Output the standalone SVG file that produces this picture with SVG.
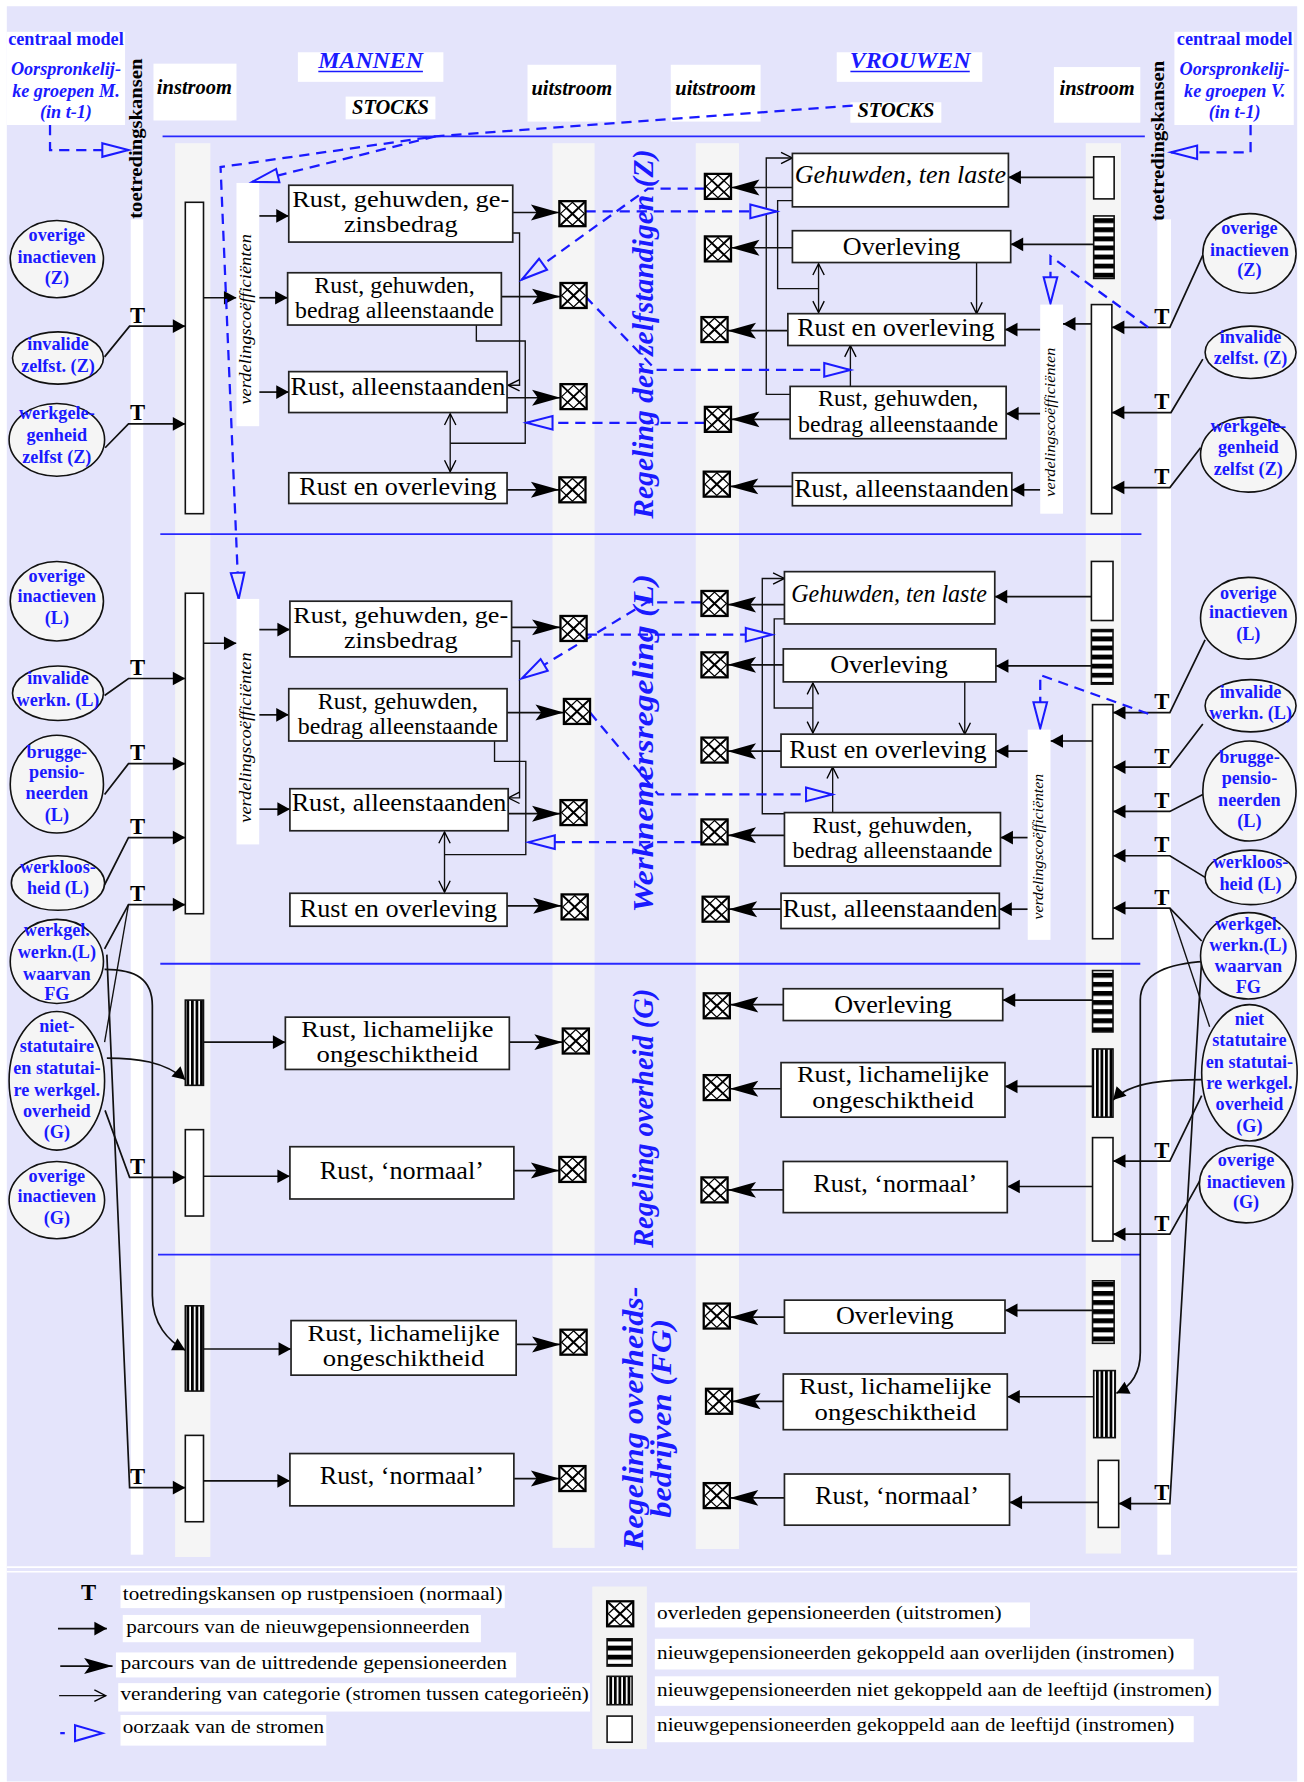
<svg xmlns="http://www.w3.org/2000/svg" width="1304" height="1782" viewBox="0 0 1304 1782">
<style>
.bx{fill:#fff;stroke:#222;stroke-width:1.5}
.bt{font-family:"Liberation Serif","Times New Roman",serif;font-size:23px;text-anchor:middle;fill:#000}
.b2{font-size:20px}
.bi{font-style:italic}
.el{fill:#f5f5f5;stroke:#111;stroke-width:1.4}
.et{font-family:"Liberation Serif","Times New Roman",serif;font-weight:bold;font-size:16px;fill:#1a1aff;text-anchor:middle}
.T{font-family:"Liberation Serif","Times New Roman",serif;font-weight:bold;font-size:20px;text-anchor:middle;fill:#000}
.f{stroke:#111;stroke-width:1.5;fill:none;marker-end:url(#aS)}
.g{stroke:#111;stroke-width:1.5;fill:none;marker-end:url(#aB)}
.c{stroke:#111;stroke-width:1.2;fill:none}
.ce{marker-end:url(#aO)}
.cd{marker-start:url(#aO);marker-end:url(#aO)}
.d{stroke:#1a1aff;stroke-width:2;stroke-dasharray:9 6;fill:none;marker-end:url(#aT)}
.dv{stroke:#2828ff;stroke-width:1.6}
.hd{font-family:"Liberation Serif","Times New Roman",serif;font-weight:bold;font-style:italic;font-size:18px;text-anchor:middle;fill:#000}
.hb{font-family:"Liberation Serif","Times New Roman",serif;font-weight:bold;font-style:italic;font-size:21px;text-anchor:middle;fill:#1a1aff}
.cm{font-family:"Liberation Serif","Times New Roman",serif;font-weight:bold;font-size:16px;text-anchor:middle;fill:#1a1aff}
.cmi{font-style:italic}
.st{font-family:"Liberation Serif","Times New Roman",serif;font-weight:bold;font-style:italic;font-size:26px;text-anchor:middle;fill:#1a1aff}
.vc{font-family:"Liberation Serif","Times New Roman",serif;font-style:italic;font-size:15px;text-anchor:middle;fill:#000}
.tk{font-family:"Liberation Serif","Times New Roman",serif;font-weight:bold;font-size:17px;text-anchor:middle;fill:#000}
.lg{font-family:"Liberation Serif","Times New Roman",serif;font-size:17px;fill:#000}
.w{fill:#fff}
.s{fill:#f5f5f5}
.bar{fill:#fff;stroke:#111;stroke-width:1.4}
.hs{fill:url(#phs);stroke:#111;stroke-width:1.4}
.vs{fill:url(#pvs);stroke:#111;stroke-width:1.4}
</style>
<defs>
<marker id="aS" markerUnits="userSpaceOnUse" markerWidth="12" markerHeight="13" refX="11" refY="6" orient="auto" overflow="visible"><path d="M0,0 L11,6 L0,12 z" fill="#000"/></marker>
<marker id="aB" markerUnits="userSpaceOnUse" markerWidth="26" markerHeight="15" refX="25" refY="7" orient="auto" overflow="visible"><path d="M0,0 L25,7 L0,14 L5,7 z" fill="#000"/></marker>
<marker id="aO" markerUnits="userSpaceOnUse" markerWidth="12" markerHeight="12" refX="10" refY="5" orient="auto-start-reverse" overflow="visible"><path d="M0,0 L10,5 L0,10" fill="none" stroke="#000" stroke-width="1.2"/></marker>
<marker id="aT" markerUnits="userSpaceOnUse" markerWidth="26" markerHeight="16" refX="24" refY="7" orient="auto" overflow="visible"><path d="M1,1 L24,7 L1,13 z" fill="#e4e4fb" stroke="#1a1aff" stroke-width="1.8"/></marker>
<pattern id="phs" patternUnits="userSpaceOnUse" width="10" height="8"><rect width="10" height="4.5" fill="#000"/><rect y="4.5" width="10" height="3.5" fill="#fff"/></pattern>
<pattern id="pvs" patternUnits="userSpaceOnUse" width="4" height="10"><rect width="2.6" height="10" fill="#000"/><rect x="2.6" width="1.4" height="10" fill="#fff"/></pattern>
<g id="dx"><rect width="23" height="22" fill="#fff" stroke="#000" stroke-width="2"/><path d="M0,0 L23,22 M23,0 L0,22" stroke="#000" stroke-width="1.8"/><path d="M11.5,1 L22,11 L11.5,21 L1,11 Z" stroke="#000" stroke-width="1.1" fill="none"/></g>
</defs>
<rect width="1304" height="1782" fill="#fff"/>
<g transform="scale(1.13688,1.13648)">
<rect x="6" y="5.5" width="1135" height="1562" fill="#e4e4fb"/>
<g id="strips">
<rect class="s" x="154" y="126" width="31" height="1244"/>
<rect class="s" x="486" y="126" width="37" height="1236"/>
<rect class="s" x="612" y="126" width="38" height="1237"/>
<rect class="s" x="955" y="126" width="31" height="1241"/>
<rect class="w" x="115" y="193" width="11" height="1175"/>
<rect class="w" x="1018" y="193" width="12" height="1175"/>
</g>
<g id="dividers">
<line class="dv" x1="143" y1="120" x2="1007" y2="120"/>
<line class="dv" x1="141" y1="470" x2="1004" y2="470"/>
<line class="dv" x1="141" y1="848" x2="1003" y2="848"/>
<line class="dv" x1="139" y1="1104" x2="1003" y2="1104"/>
</g>
<g id="header">
<rect class="w" x="6" y="28" width="104" height="82"/>
<text class="cm" x="58" y="40">centraal model</text>
<text class="cm cmi" x="58" y="66">Oorspronkelij-</text>
<text class="cm cmi" x="58" y="85">ke groepen M.</text>
<text class="cm cmi" x="58" y="104">(in t-1)</text>
<rect class="w" x="1033" y="28" width="105" height="82"/>
<text class="cm" x="1086" y="40">centraal model</text>
<text class="cm cmi" x="1086" y="66">Oorspronkelij-</text>
<text class="cm cmi" x="1086" y="85">ke groepen V.</text>
<text class="cm cmi" x="1086" y="104">(in t-1)</text>
<text class="tk" transform="translate(125,122) rotate(-90)" textLength="141" lengthAdjust="spacingAndGlyphs">toetredingskansen</text>
<text class="tk" transform="translate(1024,124) rotate(-90)" textLength="141" lengthAdjust="spacingAndGlyphs">toetredingskansen</text>
<rect class="w" x="135" y="56" width="73" height="50"/>
<text class="hd" x="171" y="83">instroom</text>
<rect class="w" x="262" y="46" width="128" height="26"/>
<text class="hb" x="326" y="60">MANNEN</text>
<line x1="280" y1="63" x2="372" y2="63" stroke="#1a1aff" stroke-width="1.3"/>
<rect class="w" x="304" y="85" width="79" height="20"/>
<text class="hd" x="343.5" y="100">STOCKS</text>
<rect class="w" x="464" y="57" width="78" height="50"/>
<text class="hd" x="503" y="84">uitstroom</text>
<rect class="w" x="590" y="57" width="79" height="50"/>
<text class="hd" x="629.5" y="84">uitstroom</text>
<rect class="w" x="736" y="46" width="128" height="26"/>
<text class="hb" x="800.5" y="60">VROUWEN</text>
<line x1="748" y1="63" x2="853" y2="63" stroke="#1a1aff" stroke-width="1.3"/>
<rect class="w" x="748" y="90" width="80" height="18"/>
<text class="hd" x="788" y="103">STOCKS</text>
<rect class="w" x="927" y="59" width="76" height="49"/>
<text class="hd" x="965" y="84">instroom</text>
</g>
<g id="connectors">
<path class="f" d="M179,262 H208"/>
<path class="f" d="M228,190 H254"/>
<path class="f" d="M228,262 H253"/>
<path class="f" d="M228,345 H254"/>
<path class="g" d="M451,187 H492"/>
<path class="g" d="M441,261 H493"/>
<path class="g" d="M446,350 H493"/>
<path class="g" d="M446,431 H492"/>
<path class="f" d="M92,314 L114,287 H163"/>
<path class="f" d="M92.5,394 L113,373 H163"/>
<path class="c ce" d="M451,205 H457 V339 H447"/>
<path class="c" d="M419,286 V300 H462 V390 H396"/>
<path class="c cd" d="M396,364 V415"/>
<path class="f" d="M962,156 H887"/>
<path class="f" d="M962,215 H889"/>
<path class="f" d="M960,285 H935"/>
<path class="f" d="M915,290 H884"/>
<path class="f" d="M915,364 H885"/>
<path class="f" d="M915,431 H890"/>
<path class="g" d="M697,165 H643"/>
<path class="g" d="M697,218 H643"/>
<path class="g" d="M693,291 H640"/>
<path class="g" d="M695,369 H643"/>
<path class="g" d="M697,428 H642"/>
<path class="f" d="M1058,224.5 L1029,288 H978"/>
<path class="f" d="M1058,316 L1030,363 H978"/>
<path class="f" d="M1056,394 L1029,429 H978"/>
<path class="c ce" d="M695,347 H674 V139 H697"/>
<path class="c" d="M697,176.5 H684 V254 H720"/>
<path class="c cd" d="M720,232 V275"/>
<path class="c ce" d="M859,231 V276"/>
<path class="c ce" d="M748,340 V304"/>
<path class="f" d="M179,566 H208"/>
<path class="f" d="M228,554 H255"/>
<path class="f" d="M228,629 H254"/>
<path class="f" d="M228,712 H255"/>
<path class="g" d="M450,552 H493"/>
<path class="g" d="M446,627 H496"/>
<path class="g" d="M447,716 H493"/>
<path class="g" d="M446,797 H494"/>
<path class="f" d="M92,612 L113,597 H163"/>
<path class="f" d="M92,699 L113,672 H163"/>
<path class="f" d="M92,778.5 L113,737 H163"/>
<path class="f" d="M92,835 L113,796 H163"/>
<path class="c" d="M113,796 L92,917"/>
<path class="f" d="M94,840 L114,1309 H163"/>
<path class="f" d="M92.4,977 L114,1036 H163"/>
<path class="f" d="M92,853 C120,853 134,862 134,885 V1140 C134,1165 148,1180 163,1188"/>
<path class="f" d="M94,931 C120,931 145,934 163,950"/>
<path class="c ce" d="M449,564 H457 V702 H447"/>
<path class="c" d="M435,652 V670 H462.5 V752 H391"/>
<path class="c cd" d="M391,732 V785"/>
<path class="f" d="M960,525 H875"/>
<path class="f" d="M960,586 H876"/>
<path class="f" d="M961,652 H924"/>
<path class="f" d="M904,661 H876"/>
<path class="f" d="M904,737 H880"/>
<path class="f" d="M904,800 H879"/>
<path class="g" d="M690,532 H640"/>
<path class="g" d="M689,585 H640"/>
<path class="g" d="M687,661 H640"/>
<path class="g" d="M690,735 H640"/>
<path class="g" d="M687,800 H641"/>
<path class="f" d="M1060,563 L1029,627 H979"/>
<path class="f" d="M1058,637 L1029,675 H979"/>
<path class="f" d="M1058,699 L1029,714 H979"/>
<path class="f" d="M1060,772 L1029,753 H979"/>
<path class="f" d="M1057,828 L1029,799 H979"/>
<path class="c" d="M1029,799 L1064,903.5"/>
<path class="f" d="M1057,844 L1029,1323 H984"/>
<path class="f" d="M1057,964 L1029,1021.6 H979"/>
<path class="f" d="M1057,1036 L1029,1086 H979"/>
<path class="f" d="M1060,846 C1030,848 1003,855 1003,880 V1190 C1003,1210 994,1220 982,1226"/>
<path class="f" d="M1058,950 C1030,950 995,951 979,968"/>
<path class="c ce" d="M690.5,716 H670.5 V509 H690"/>
<path class="c" d="M690,544.5 H681 V623 H715"/>
<path class="c cd" d="M715,601 V645"/>
<path class="c ce" d="M848.6,600 V646"/>
<path class="c ce" d="M732.4,715 V675"/>
<path class="f" d="M179,917 H251"/>
<path class="f" d="M179,1035 H255"/>
<path class="g" d="M448,917 H495"/>
<path class="g" d="M452,1030 H492"/>
<path class="f" d="M179,1187 H256"/>
<path class="f" d="M179,1303 H255"/>
<path class="g" d="M454,1183 H493"/>
<path class="g" d="M452,1301 H492"/>
<path class="f" d="M961,880 H882"/>
<path class="f" d="M961,956 H884"/>
<path class="f" d="M961,1044 H886"/>
<path class="g" d="M689,884 H642"/>
<path class="g" d="M687,958 H642"/>
<path class="g" d="M689,1047 H640"/>
<path class="f" d="M961,1153 H884"/>
<path class="f" d="M962,1229 H886"/>
<path class="f" d="M966,1322 H888"/>
<path class="g" d="M690,1159 H642"/>
<path class="g" d="M689,1233 H644"/>
<path class="g" d="M690,1318 H642"/>
<path class="d" d="M44,110 V132 H113"/>
<path class="d" d="M1100,110 V134 H1030"/>
<path class="d" d="M750,93 L383,120 L194,147 L210,527"/>
<path class="d" d="M383,120 L222,160"/>
<path class="d" d="M515,186 H683"/>
<path class="d" d="M620,166 H570 L459,246"/>
<path class="d" d="M515,261 L577,325.5 H748"/>
<path class="d" d="M620,372 H463"/>
<path class="d" d="M1010,288 L924,225.5 V267"/>
<path class="d" d="M516,558.5 H679"/>
<path class="d" d="M617,530 H569 L459,597"/>
<path class="d" d="M519,627 L579,699 H732"/>
<path class="d" d="M617,741 H465"/>
<path class="d" d="M1010,628 L915,594 V641"/>
</g>
<g id="titles">
<text class="st" transform="translate(574,294) rotate(-90)" textLength="325" lengthAdjust="spacingAndGlyphs">Regeling der zelfstandigen (Z)</text>
<text class="st" transform="translate(574,654) rotate(-90)" textLength="298" lengthAdjust="spacingAndGlyphs">Werknemersregeling (L)</text>
<text class="st" transform="translate(574,984) rotate(-90)" textLength="228" lengthAdjust="spacingAndGlyphs">Regeling overheid (G)</text>
<text class="st" transform="translate(566,1248) rotate(-90)" textLength="232" lengthAdjust="spacingAndGlyphs">Regeling overheids-</text>
<text class="st" transform="translate(590,1248) rotate(-90)" textLength="175" lengthAdjust="spacingAndGlyphs">bedrijven (FG)</text>
</g>
<g id="men-Z">
<rect class="bar" x="163" y="178" width="16" height="274"/>
<rect class="w" x="208" y="161" width="20" height="214"/>
<text class="vc" transform="translate(221,281) rotate(-90)" textLength="150" lengthAdjust="spacingAndGlyphs">verdelingscoëfficiënten</text>
</g>
<g id="mz1"><rect class="bx" x="254" y="163" width="197" height="50"/><text class="bt b2"><tspan x="352.5" y="182" textLength="191" lengthAdjust="spacingAndGlyphs">Rust, gehuwden, ge-</tspan><tspan x="352.5" y="204.2" textLength="100" lengthAdjust="spacingAndGlyphs">zinsbedrag</tspan></text></g>
<g id="mz2"><rect class="bx" x="253" y="240" width="188" height="46"/><text class="bt b2"><tspan x="347" y="257.5" textLength="141" lengthAdjust="spacingAndGlyphs">Rust, gehuwden,</tspan><tspan x="347" y="279.7" textLength="175" lengthAdjust="spacingAndGlyphs">bedrag alleenstaande</tspan></text></g>
<g id="mz3"><rect class="bx" x="254" y="327" width="192" height="36"/><text class="bt" x="350" y="348">Rust, alleenstaanden</text></g>
<g id="mz4"><rect class="bx" x="254" y="416" width="192" height="27"/><text class="bt" x="350" y="436">Rust en overleving</text></g>
<g id="wz-in">
<rect class="bar" x="962" y="138" width="18" height="37"/>
<rect class="hs" x="962" y="190" width="18" height="55"/>
<rect class="bar" x="960" y="268" width="18" height="184"/>
<rect class="w" x="915" y="268" width="20" height="184"/>
<text class="vc" style="font-size:13.5px" transform="translate(928,371.5) rotate(-90)" textLength="131" lengthAdjust="spacingAndGlyphs">verdelingscoëfficiënten</text>
</g>
<g id="wz1"><rect class="bx" x="697" y="135" width="190" height="47"/><text class="bt bi" x="792" y="161" textLength="186" lengthAdjust="spacingAndGlyphs">Gehuwden, ten laste</text></g>
<g id="wz2"><rect class="bx" x="697" y="203" width="192" height="28"/><text class="bt" x="793" y="224">Overleving</text></g>
<g id="wz3"><rect class="bx" x="693" y="276" width="191" height="28"/><text class="bt" x="788" y="296">Rust en overleving</text></g>
<g id="wz4"><rect class="bx" x="695" y="340" width="190" height="46"/><text class="bt b2"><tspan x="790" y="357.5" textLength="141" lengthAdjust="spacingAndGlyphs">Rust, gehuwden,</tspan><tspan x="790" y="379.7" textLength="176" lengthAdjust="spacingAndGlyphs">bedrag alleenstaande</tspan></text></g>
<g id="wz5"><rect class="bx" x="697" y="416" width="193" height="29"/><text class="bt" x="793" y="437">Rust, alleenstaanden</text></g>
<g id="men-L">
<rect class="bar" x="163" y="522" width="16" height="282"/>
<rect class="w" x="208" y="527" width="20" height="216"/>
<text class="vc" transform="translate(221,649) rotate(-90)" textLength="150" lengthAdjust="spacingAndGlyphs">verdelingscoëfficiënten</text>
</g>
<g id="ml1"><rect class="bx" x="255" y="529" width="195" height="49"/><text class="bt b2"><tspan x="352.5" y="548" textLength="189" lengthAdjust="spacingAndGlyphs">Rust, gehuwden, ge-</tspan><tspan x="352.5" y="570.2" textLength="100" lengthAdjust="spacingAndGlyphs">zinsbedrag</tspan></text></g>
<g id="ml2"><rect class="bx" x="254" y="606" width="192" height="46"/><text class="bt b2"><tspan x="350" y="623.5" textLength="141" lengthAdjust="spacingAndGlyphs">Rust, gehuwden,</tspan><tspan x="350" y="645.7" textLength="176" lengthAdjust="spacingAndGlyphs">bedrag alleenstaande</tspan></text></g>
<g id="ml3"><rect class="bx" x="255" y="694" width="192" height="37"/><text class="bt" x="351" y="714">Rust, alleenstaanden</text></g>
<g id="ml4"><rect class="bx" x="255" y="786" width="191" height="29"/><text class="bt" x="350.5" y="806.5">Rust en overleving</text></g>
<g id="wl-in">
<rect class="bar" x="960" y="494" width="19" height="52"/>
<rect class="hs" x="960" y="554" width="19" height="48"/>
<rect class="bar" x="961" y="620" width="18" height="206"/>
<rect class="w" x="904" y="642" width="20" height="185"/>
<text class="vc" style="font-size:13.5px" transform="translate(917,745) rotate(-90)" textLength="128" lengthAdjust="spacingAndGlyphs">verdelingscoëfficiënten</text>
</g>
<g id="wl1"><rect class="bx" x="690" y="503" width="185" height="46"/><text class="bt bi" x="782" y="529.5" textLength="172" lengthAdjust="spacingAndGlyphs">Gehuwden, ten laste</text></g>
<g id="wl2"><rect class="bx" x="689" y="571" width="187" height="29"/><text class="bt" x="782" y="592">Overleving</text></g>
<g id="wl3"><rect class="bx" x="687" y="646" width="189" height="29"/><text class="bt" x="781" y="667">Rust en overleving</text></g>
<g id="wl4"><rect class="bx" x="690" y="715" width="190" height="47"/><text class="bt b2"><tspan x="785" y="733" textLength="141" lengthAdjust="spacingAndGlyphs">Rust, gehuwden,</tspan><tspan x="785" y="755.2" textLength="176" lengthAdjust="spacingAndGlyphs">bedrag alleenstaande</tspan></text></g>
<g id="wl5"><rect class="bx" x="687" y="786" width="192" height="31"/><text class="bt" x="783" y="806.5">Rust, alleenstaanden</text></g>
<g id="men-G">
<rect class="vs" x="163" y="880" width="16" height="75"/>
<rect class="bar" x="163" y="994" width="16" height="76"/>
</g>
<g id="mg1"><rect class="bx" x="251" y="895" width="197" height="46"/><text class="bt b2"><tspan x="349.5" y="912.5" textLength="169" lengthAdjust="spacingAndGlyphs">Rust, lichamelijke</tspan><tspan x="349.5" y="934.7" textLength="142" lengthAdjust="spacingAndGlyphs">ongeschiktheid</tspan></text></g>
<g id="mg2"><rect class="bx" x="255" y="1009" width="197" height="46"/><text class="bt" x="353.5" y="1037">Rust, &#8216;normaal&#8217;</text></g>
<g id="men-FG">
<rect class="vs" x="163" y="1149" width="16" height="75"/>
<rect class="bar" x="163" y="1263" width="16" height="76"/>
</g>
<g id="mf1"><rect class="bx" x="256" y="1162" width="198" height="48"/><text class="bt b2"><tspan x="355" y="1180" textLength="169" lengthAdjust="spacingAndGlyphs">Rust, lichamelijke</tspan><tspan x="355" y="1202.2" textLength="142" lengthAdjust="spacingAndGlyphs">ongeschiktheid</tspan></text></g>
<g id="mf2"><rect class="bx" x="255" y="1279" width="197" height="46"/><text class="bt" x="353.5" y="1306">Rust, &#8216;normaal&#8217;</text></g>
<g id="wg-in">
<rect class="hs" x="961" y="854" width="18" height="54"/>
<rect class="vs" x="961" y="923" width="18" height="60"/>
<rect class="bar" x="961" y="1001" width="18" height="91"/>
</g>
<g id="wg1"><rect class="bx" x="689" y="870" width="193" height="28"/><text class="bt" x="785.5" y="891">Overleving</text></g>
<g id="wg2"><rect class="bx" x="687" y="935" width="197" height="48"/><text class="bt b2"><tspan x="785.5" y="952.5" textLength="169" lengthAdjust="spacingAndGlyphs">Rust, lichamelijke</tspan><tspan x="785.5" y="974.7" textLength="142" lengthAdjust="spacingAndGlyphs">ongeschiktheid</tspan></text></g>
<g id="wg3"><rect class="bx" x="689" y="1022" width="197" height="45"/><text class="bt" x="787.5" y="1049">Rust, &#8216;normaal&#8217;</text></g>
<g id="wf-in">
<rect class="hs" x="961" y="1127" width="19" height="55"/>
<rect class="vs" x="962" y="1206" width="19" height="59"/>
<rect class="bar" x="966" y="1285" width="18" height="59"/>
</g>
<g id="wf1"><rect class="bx" x="690" y="1144" width="194" height="29"/><text class="bt" x="787" y="1165">Overleving</text></g>
<g id="wf2"><rect class="bx" x="689" y="1209" width="197" height="49"/><text class="bt b2"><tspan x="787.5" y="1227" textLength="169" lengthAdjust="spacingAndGlyphs">Rust, lichamelijke</tspan><tspan x="787.5" y="1249.2" textLength="142" lengthAdjust="spacingAndGlyphs">ongeschiktheid</tspan></text></g>
<g id="wf3"><rect class="bx" x="690" y="1297" width="198" height="45"/><text class="bt" x="789" y="1323">Rust, &#8216;normaal&#8217;</text></g>
<g id="deaths">
<use href="#dx" x="492" y="177"/><use href="#dx" x="493" y="249"/><use href="#dx" x="493" y="338"/><use href="#dx" x="492" y="420"/>
<use href="#dx" x="620" y="153"/><use href="#dx" x="620" y="208"/><use href="#dx" x="617" y="279"/><use href="#dx" x="620" y="358"/><use href="#dx" x="619" y="415"/>
<use href="#dx" x="493" y="542"/><use href="#dx" x="496" y="615"/><use href="#dx" x="493" y="704"/><use href="#dx" x="494" y="787"/>
<use href="#dx" x="617" y="520"/><use href="#dx" x="617" y="574"/><use href="#dx" x="617" y="649"/><use href="#dx" x="617" y="721"/><use href="#dx" x="618" y="789"/>
<use href="#dx" x="495" y="905"/><use href="#dx" x="492" y="1018"/>
<use href="#dx" x="493" y="1170"/><use href="#dx" x="492" y="1290"/>
<use href="#dx" x="619" y="874"/><use href="#dx" x="619" y="946"/><use href="#dx" x="617" y="1036"/>
<use href="#dx" x="619" y="1147"/><use href="#dx" x="621" y="1222"/><use href="#dx" x="619" y="1305"/>
</g>
<g id="T-labels">
<text class="T" x="121" y="284">T</text><text class="T" x="121" y="370">T</text>
<text class="T" x="121" y="594">T</text><text class="T" x="121" y="669">T</text><text class="T" x="121" y="734">T</text><text class="T" x="121" y="793">T</text>
<text class="T" x="121" y="1033">T</text><text class="T" x="121" y="1306">T</text>
<text class="T" x="1022" y="285">T</text><text class="T" x="1022" y="360">T</text><text class="T" x="1022" y="426">T</text>
<text class="T" x="1022" y="624">T</text><text class="T" x="1022" y="672">T</text><text class="T" x="1022" y="711">T</text><text class="T" x="1022" y="750">T</text><text class="T" x="1022" y="796">T</text>
<text class="T" x="1022" y="1019">T</text><text class="T" x="1022" y="1083">T</text><text class="T" x="1022" y="1320">T</text>
</g>
<g id="mZ1"><ellipse class="el" cx="50" cy="228" rx="41" ry="34"/><text class="et"><tspan x="50" y="212">overige</tspan><tspan x="50" y="231">inactieven</tspan><tspan x="50" y="250">(Z)</tspan></text></g>
<g id="mZ2"><ellipse class="el" cx="51" cy="315" rx="40" ry="23"/><text class="et"><tspan x="51" y="308">invalide</tspan><tspan x="51" y="327">zelfst. (Z)</tspan></text></g>
<g id="mZ3"><ellipse class="el" cx="50" cy="387" rx="42" ry="32"/><text class="et"><tspan x="50" y="369">werkgele-</tspan><tspan x="50" y="388">genheid</tspan><tspan x="50" y="407">zelfst (Z)</tspan></text></g>
<g id="mL1"><ellipse class="el" cx="50" cy="529" rx="41" ry="35"/><text class="et"><tspan x="50" y="512">overige</tspan><tspan x="50" y="530">inactieven</tspan><tspan x="50" y="549">(L)</tspan></text></g>
<g id="mL2"><ellipse class="el" cx="51" cy="610" rx="40" ry="24"/><text class="et"><tspan x="51" y="602">invalide</tspan><tspan x="51" y="621">werkn. (L)</tspan></text></g>
<g id="mL3"><ellipse class="el" cx="50" cy="690" rx="41" ry="43"/><text class="et"><tspan x="50" y="667">brugge-</tspan><tspan x="50" y="685">pensio-</tspan><tspan x="50" y="703">neerden</tspan><tspan x="50" y="722">(L)</tspan></text></g>
<g id="mL4"><ellipse class="el" cx="51" cy="777" rx="41" ry="24"/><text class="et"><tspan x="51" y="768">werkloos-</tspan><tspan x="51" y="787">heid (L)</tspan></text></g>
<g id="mL5"><ellipse class="el" cx="50" cy="846" rx="41" ry="37"/><text class="et"><tspan x="50" y="824">werkgel.</tspan><tspan x="50" y="843">werkn.(L)</tspan><tspan x="50" y="862">waarvan</tspan><tspan x="50" y="880">FG</tspan></text></g>
<g id="mG1"><ellipse class="el" cx="50" cy="951" rx="42" ry="61"/><text class="et"><tspan x="50" y="908">niet-</tspan><tspan x="50" y="926">statutaire</tspan><tspan x="50" y="945">en statutai-</tspan><tspan x="50" y="964">re werkgel.</tspan><tspan x="50" y="983">overheid</tspan><tspan x="50" y="1001">(G)</tspan></text></g>
<g id="mG2"><ellipse class="el" cx="50" cy="1056" rx="42" ry="34"/><text class="et"><tspan x="50" y="1040">overige</tspan><tspan x="50" y="1058">inactieven</tspan><tspan x="50" y="1077">(G)</tspan></text></g>
<g id="wZ1"><ellipse class="el" cx="1099" cy="223" rx="41" ry="35"/><text class="et"><tspan x="1099" y="206">overige</tspan><tspan x="1099" y="225">inactieven</tspan><tspan x="1099" y="243">(Z)</tspan></text></g>
<g id="wZ2"><ellipse class="el" cx="1100" cy="310" rx="40" ry="23"/><text class="et"><tspan x="1100" y="302">invalide</tspan><tspan x="1100" y="320">zelfst. (Z)</tspan></text></g>
<g id="wZ3"><ellipse class="el" cx="1098" cy="400" rx="42" ry="33"/><text class="et"><tspan x="1098" y="380">werkgele-</tspan><tspan x="1098" y="399">genheid</tspan><tspan x="1098" y="418">zelfst (Z)</tspan></text></g>
<g id="wL1"><ellipse class="el" cx="1098" cy="544" rx="42" ry="36"/><text class="et"><tspan x="1098" y="527">overige</tspan><tspan x="1098" y="544">inactieven</tspan><tspan x="1098" y="563">(L)</tspan></text></g>
<g id="wL2"><ellipse class="el" cx="1100" cy="621" rx="40" ry="23"/><text class="et"><tspan x="1100" y="614">invalide</tspan><tspan x="1100" y="633">werkn. (L)</tspan></text></g>
<g id="wL3"><ellipse class="el" cx="1099" cy="696" rx="41" ry="44"/><text class="et"><tspan x="1099" y="671">brugge-</tspan><tspan x="1099" y="690">pensio-</tspan><tspan x="1099" y="709">neerden</tspan><tspan x="1099" y="728">(L)</tspan></text></g>
<g id="wL4"><ellipse class="el" cx="1100" cy="772" rx="40" ry="24"/><text class="et"><tspan x="1100" y="764">werkloos-</tspan><tspan x="1100" y="783">heid (L)</tspan></text></g>
<g id="wL5"><ellipse class="el" cx="1098" cy="841" rx="42" ry="38"/><text class="et"><tspan x="1098" y="818">werkgel.</tspan><tspan x="1098" y="837">werkn.(L)</tspan><tspan x="1098" y="855">waarvan</tspan><tspan x="1098" y="874">FG</tspan></text></g>
<g id="wG1"><ellipse class="el" cx="1099" cy="944" rx="42" ry="60"/><text class="et"><tspan x="1099" y="902">niet</tspan><tspan x="1099" y="920">statutaire</tspan><tspan x="1099" y="940">en statutai-</tspan><tspan x="1099" y="958">re werkgel.</tspan><tspan x="1099" y="977">overheid</tspan><tspan x="1099" y="996">(G)</tspan></text></g>
<g id="wG2"><ellipse class="el" cx="1096" cy="1042" rx="41" ry="34"/><text class="et"><tspan x="1096" y="1026">overige</tspan><tspan x="1096" y="1045">inactieven</tspan><tspan x="1096" y="1063">(G)</tspan></text></g>
<g id="legend">
<line x1="6" y1="1379" x2="1141" y2="1379" stroke="#fff" stroke-width="1.5"/>
<line x1="6" y1="1383" x2="1141" y2="1383" stroke="#fff" stroke-width="1.5"/>
<text class="T" x="78" y="1408">T</text>
<rect class="w" x="106" y="1395" width="338" height="20"/>
<text class="lg" x="108" y="1408" textLength="334" lengthAdjust="spacingAndGlyphs">toetredingskansen op rustpensioen (normaal)</text>
<path class="f" d="M51,1433 H94"/>
<rect class="w" x="108" y="1421" width="315" height="24"/>
<text class="lg" x="111" y="1437" textLength="302" lengthAdjust="spacingAndGlyphs">parcours van de nieuwgepensionneerden</text>
<path class="g" d="M53,1466 H99"/>
<rect class="w" x="102" y="1454" width="352" height="22"/>
<text class="lg" x="106" y="1469" textLength="340" lengthAdjust="spacingAndGlyphs">parcours van de uittredende gepensioneerden</text>
<path class="c ce" d="M52,1492 H93"/>
<rect class="w" x="104" y="1481" width="415" height="25"/>
<text class="lg" x="106" y="1496" textLength="412" lengthAdjust="spacingAndGlyphs">verandering van categorie (stromen tussen categorieën)</text>
<path d="M53,1525 H57" stroke="#1a1aff" stroke-width="2"/>
<path d="M66,1518 L90,1525 L66,1532 z" fill="none" stroke="#1a1aff" stroke-width="1.8"/>
<rect class="w" x="106" y="1509" width="181" height="27"/>
<text class="lg" x="108" y="1525" textLength="177" lengthAdjust="spacingAndGlyphs">oorzaak van de stromen</text>
<rect x="521" y="1396" width="48" height="143" fill="#f3f3f3"/>
<use href="#dx" x="534" y="1409"/>
<rect class="hs" x="534" y="1442" width="22" height="24"/>
<rect class="vs" x="534" y="1475" width="22" height="25"/>
<rect class="bar" x="534" y="1510" width="22" height="23"/>
<rect class="w" x="576" y="1410" width="330" height="22"/>
<text class="lg" x="578" y="1425" textLength="303" lengthAdjust="spacingAndGlyphs">overleden gepensioneerden (uitstromen)</text>
<rect class="w" x="576" y="1442" width="474" height="27"/>
<text class="lg" x="578" y="1460" textLength="455" lengthAdjust="spacingAndGlyphs">nieuwgepensioneerden gekoppeld aan overlijden (instromen)</text>
<rect class="w" x="576" y="1475" width="496" height="26"/>
<text class="lg" x="578" y="1492" textLength="488" lengthAdjust="spacingAndGlyphs">nieuwgepensioneerden niet gekoppeld aan de leeftijd (instromen)</text>
<rect class="w" x="576" y="1510" width="474" height="23"/>
<text class="lg" x="578" y="1523" textLength="455" lengthAdjust="spacingAndGlyphs">nieuwgepensioneerden gekoppeld aan de leeftijd (instromen)</text>
</g>
</g>
</svg>
